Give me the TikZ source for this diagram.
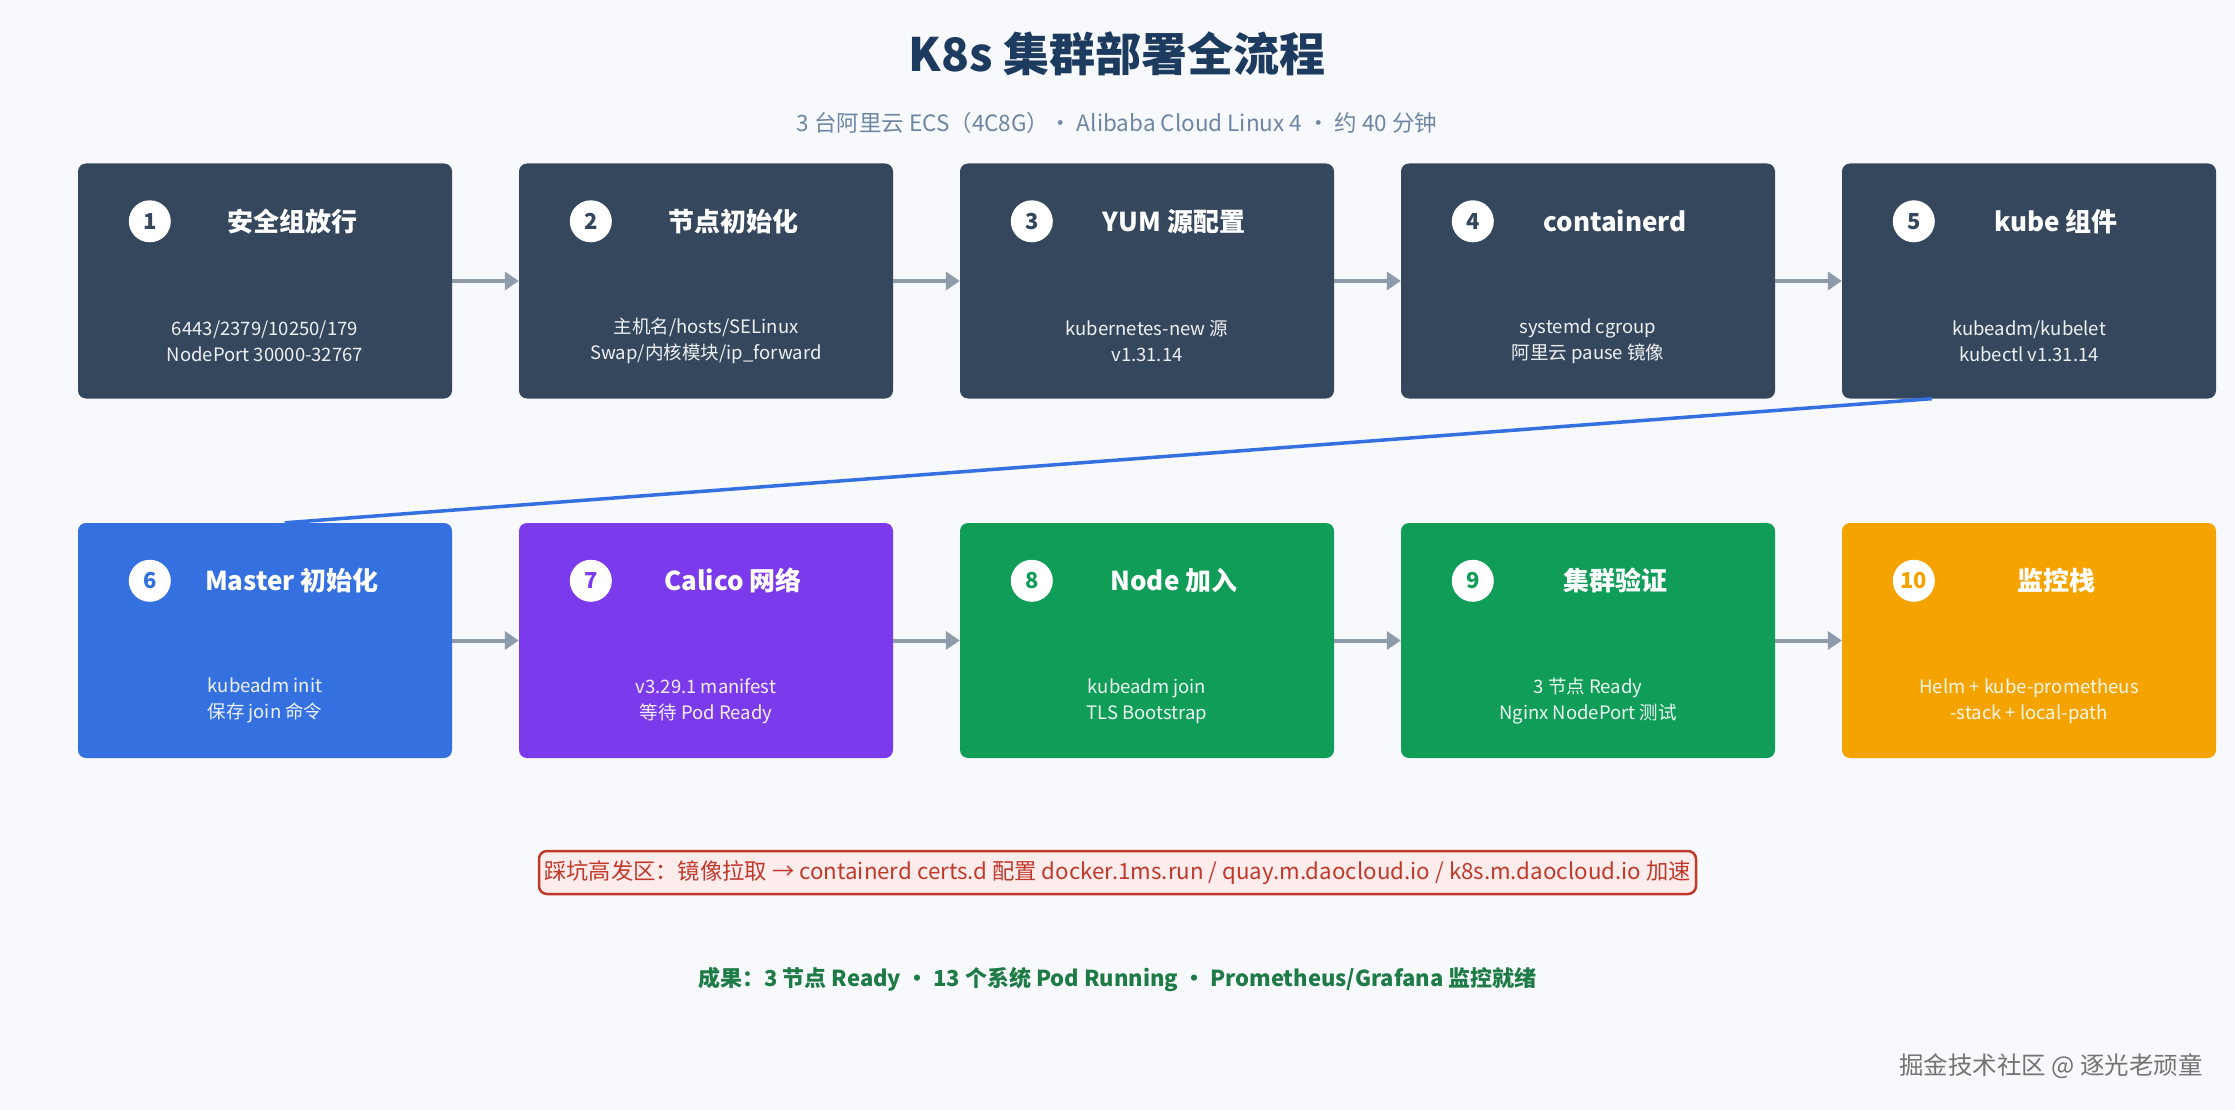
\documentclass[tikz,border=0pt]{standalone}
\usepackage{fontspec}
\setmainfont{Noto Sans CJK SC}
\usetikzlibrary{arrows.meta,positioning,calc}
\definecolor{bgc}{HTML}{F7F9FC}
\definecolor{navy}{HTML}{1D3B5E}
\definecolor{subc}{HTML}{6D86A3}
\definecolor{slate}{HTML}{34475C}
\definecolor{blu}{HTML}{3470E0}
\definecolor{purp}{HTML}{7C3AED}
\definecolor{grn}{HTML}{0F9D58}
\definecolor{orng}{HTML}{F4A300}
\definecolor{flowc}{HTML}{8E9BAB}
\definecolor{warnc}{HTML}{C0392B}
\definecolor{warnbg}{HTML}{FDECEC}
\definecolor{okc}{HTML}{1E7B46}
\begin{document}
\begin{tikzpicture}[x=1pt,y=-1pt,>=Stealth]
\tikzstyle{card}=[rounded corners=8pt,minimum width=374pt,minimum height=235pt,inner sep=0pt]
\tikzstyle{num}=[circle,fill=white,minimum size=42pt,inner sep=0pt,font=\fontsize{22}{22}\selectfont\bfseries]
\tikzstyle{ttl}=[text=white,font=\fontsize{26}{30}\selectfont\bfseries]
\tikzstyle{sub}=[text=white,text opacity=0.92,align=center,font=\fontsize{18.5}{26}\selectfont]
\tikzstyle{flow}=[draw=flowc,line width=4pt,-{Triangle[length=14pt,width=18pt]}]
\fill[bgc] (0,0) rectangle (2235,1110);
\useasboundingbox (0,0) rectangle (2235,1110);
\node[text=navy,font=\fontsize{46}{52}\selectfont\bfseries] (title) at (1117,54) {K8s 集群部署全流程};
\node[text=subc,font=\fontsize{22.5}{26}\selectfont] (subtitle) at (1117,123) {3 台阿里云 ECS（4C8G）· Alibaba Cloud Linux 4 · 约 40 分钟};
% row 1
\foreach \i/\c/\t/\s in {1/slate/安全组放行/{6443/2379/10250/179\\NodePort 30000-32767},2/slate/节点初始化/{主机名/hosts/SELinux\\Swap/内核模块/ip\_forward},3/slate/YUM 源配置/{kubernetes-new 源\\v1.31.14},4/slate/containerd/{systemd cgroup\\阿里云 pause 镜像},5/slate/kube 组件/{kubeadm/kubelet\\kubectl v1.31.14}} {
  \node[card,fill=\c] (b\i) at ({265+(\i-1)*441},281) {};
  \node[num,text=\c] (n\i) at ($(b\i.north west)+(72,58)$) {\i};
  \node[ttl] (t\i) at ($(b\i.north)+(27,58)$) {\t};
  \node[sub] (s\i) at ($(b\i.north)+(0,178)$) {\s};
}
% row 2
\foreach \i/\c/\t/\s in {6/blu/Master 初始化/{kubeadm init\\保存 join 命令},7/purp/Calico 网络/{v3.29.1 manifest\\等待 Pod Ready},8/grn/Node 加入/{kubeadm join\\TLS Bootstrap},9/grn/集群验证/{3 节点 Ready\\Nginx NodePort 测试},10/orng/监控栈/{Helm + kube-prometheus\\-stack + local-path}} {
  \node[card,fill=\c] (b\i) at ({265+(\i-6)*441},640.5) {};
  \node[num,text=\c] (n\i) at ($(b\i.north west)+(72,58)$) {\i};
  \node[ttl] (t\i) at ($(b\i.north)+(27,58)$) {\t};
  \node[sub] (s\i) at ($(b\i.north)+(0,178)$) {\s};
}
\foreach \a/\b in {1/2,2/3,3/4,4/5,6/7,7/8,8/9,9/10} \draw[flow] (b\a) -- (b\b);
% wrap from step 5 to step 6
\coordinate (w5) at ($(b5.south west)+(90,0)$);
\coordinate (w6) at ($(b6.north west)+(207,0)$);
\draw[blu,line width=3.5pt] (w5) -- (w6);
\node[draw=warnc,fill=warnbg,line width=2.5pt,rounded corners=8pt,minimum width=1157pt,minimum height=43pt,inner sep=4pt,text=warnc,font=\fontsize{22.3}{26}\selectfont] (warn) at (1117.5,872.5) {踩坑高发区：镜像拉取 → containerd certs.d 配置 docker.1ms.run / quay.m.daocloud.io / k8s.m.daocloud.io 加速};
\node[text=okc,font=\fontsize{22}{26}\selectfont\bfseries] (result) at (1117.5,980) {成果：3 节点 Ready · 13 个系统 Pod Running · Prometheus/Grafana 监控就绪};
\node[text=black!55,font=\fontsize{24.5}{28}\selectfont] (mark) at (2051,1066) {掘金技术社区 @ 逐光老顽童};
\end{tikzpicture}
\end{document}
